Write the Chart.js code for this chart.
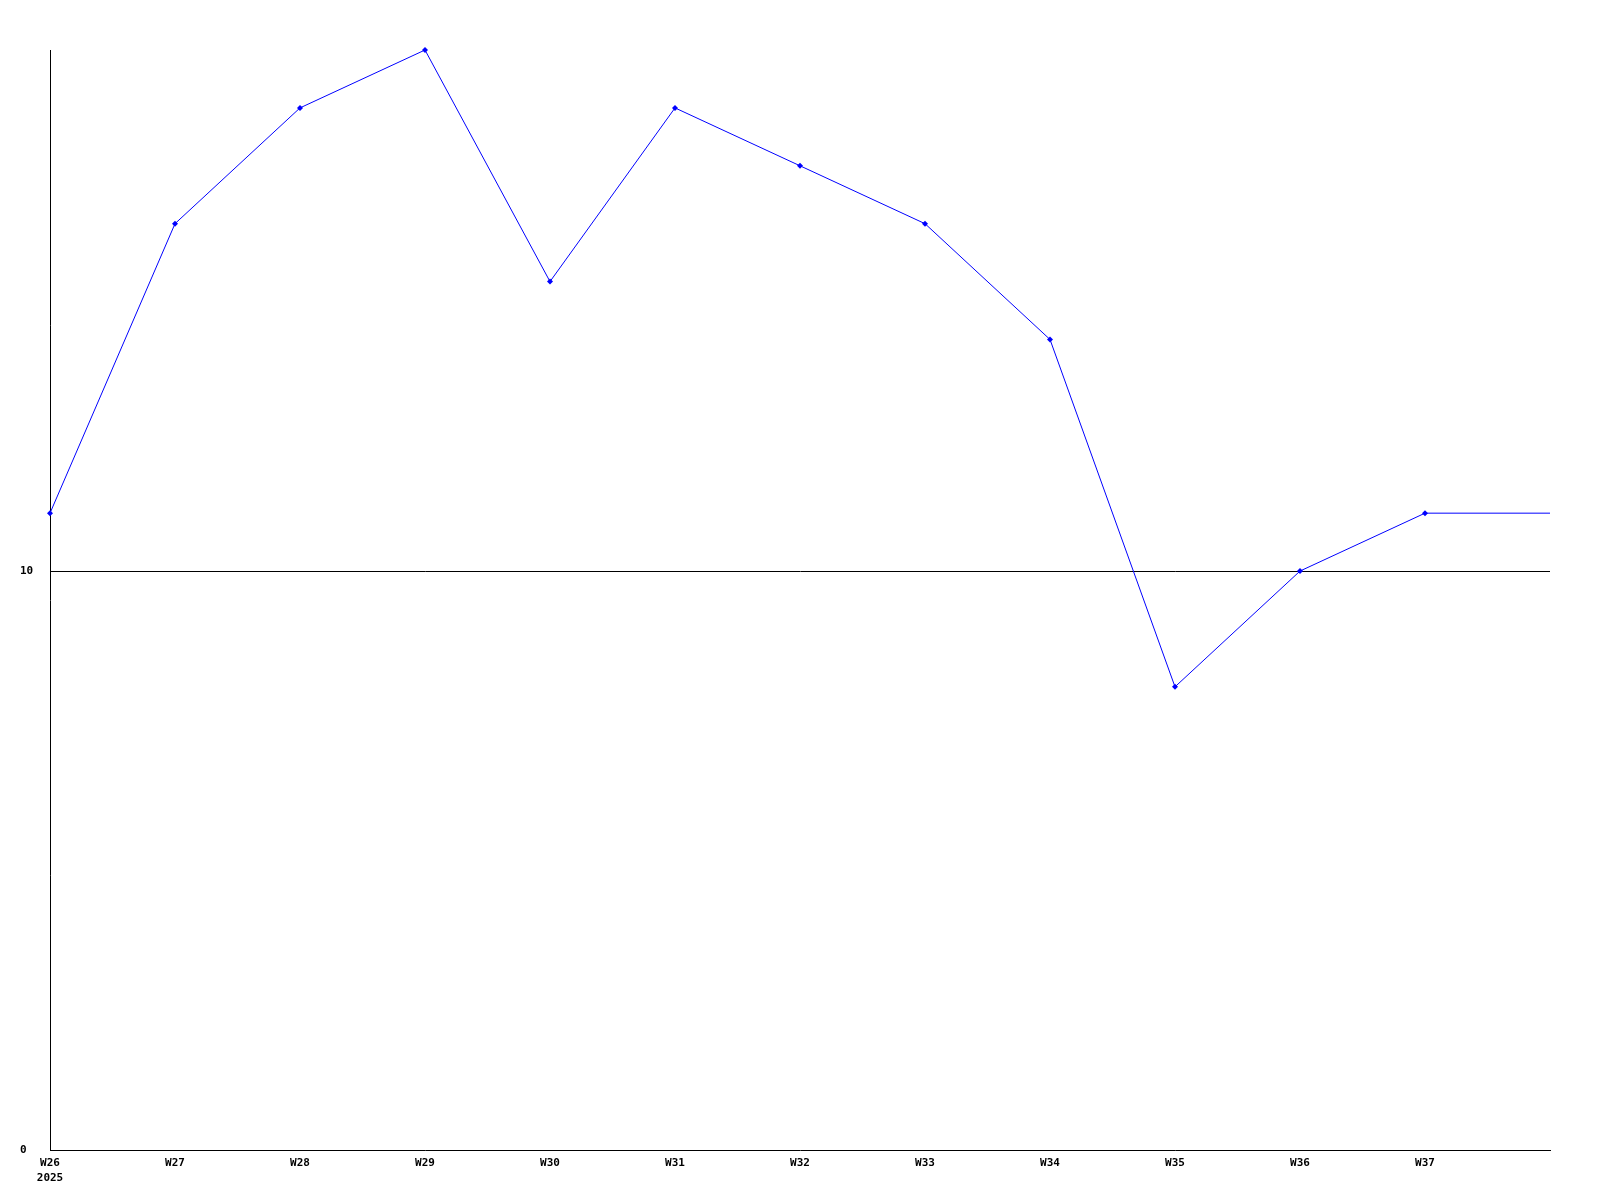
<!DOCTYPE html>
<html>
<head>
<meta charset="utf-8">
<script src="https://cdn.jsdelivr.net/npm/chart.js@4/dist/chart.umd.min.js"></script>
<style>
  html, body { margin: 0; padding: 0; background: #fff; }
  #wrap { width: 1600px; height: 1200px; }
</style>
</head>
<body>
<div id="wrap"><canvas id="chart" width="1600" height="1200"></canvas></div>
<script>
// Weekly values (week index 0 = W26 2025)
const weeks = ['W26', 'W27', 'W28', 'W29', 'W30', 'W31', 'W32', 'W33', 'W34', 'W35', 'W36', 'W37'];
const yearLabel = '2025';
const values = [11, 16, 18, 19, 15, 18, 17, 16, 14, 8, 10, 11, 11];
const yTicks = [0, 10];

const points = values.map((v, i) => ({ x: i, y: v }));
const font = { family: '"DejaVu Sans Mono", monospace', size: 11, weight: 'bold', lineHeight: 1.35 };

new Chart(document.getElementById('chart').getContext('2d'), {
  type: 'line',
  data: {
    datasets: [{
      data: points,
      borderColor: '#0000ff',
      backgroundColor: '#0000ff',
      borderWidth: 1,
      tension: 0,
      fill: false,
      clip: false,
      pointStyle: 'rectRot',
      // last point is only the tail of the line, no marker
      pointRadius: points.map((p, i) => i < weeks.length ? 3 : 0),
      pointBorderWidth: 0
    }]
  },
  options: {
    responsive: false,
    animation: false,
    layout: { padding: { left: 20, top: 50, right: 50, bottom: 0 } },
    plugins: { legend: { display: false }, tooltip: { enabled: false } },
    scales: {
      x: {
        type: 'linear',
        min: 0,
        max: weeks.length,
        afterBuildTicks: s => { s.ticks = weeks.map((w, i) => ({ value: i })); },
        afterFit: s => { s.height = 50; },
        ticks: {
          autoSkip: false,
          maxRotation: 0,
          padding: 6,
          color: '#000',
          font: font,
          callback: v => v === 0 ? [weeks[0], yearLabel] : weeks[v]
        },
        grid: { display: false, drawTicks: false },
        border: { color: '#000', width: 1 }
      },
      y: {
        min: 0,
        max: 19,
        afterBuildTicks: s => { s.ticks = yTicks.map(v => ({ value: v })); },
        afterFit: s => { s.width = 30; },
        ticks: {
          crossAlign: 'far',
          padding: 0,
          color: '#000',
          font: font
        },
        grid: {
          drawTicks: false,
          color: c => c.tick && c.tick.value === 10 ? '#000' : 'rgba(0,0,0,0)',
          lineWidth: 1
        },
        border: { color: '#000', width: 1 }
      }
    }
  }
});
</script>
</body>
</html>
